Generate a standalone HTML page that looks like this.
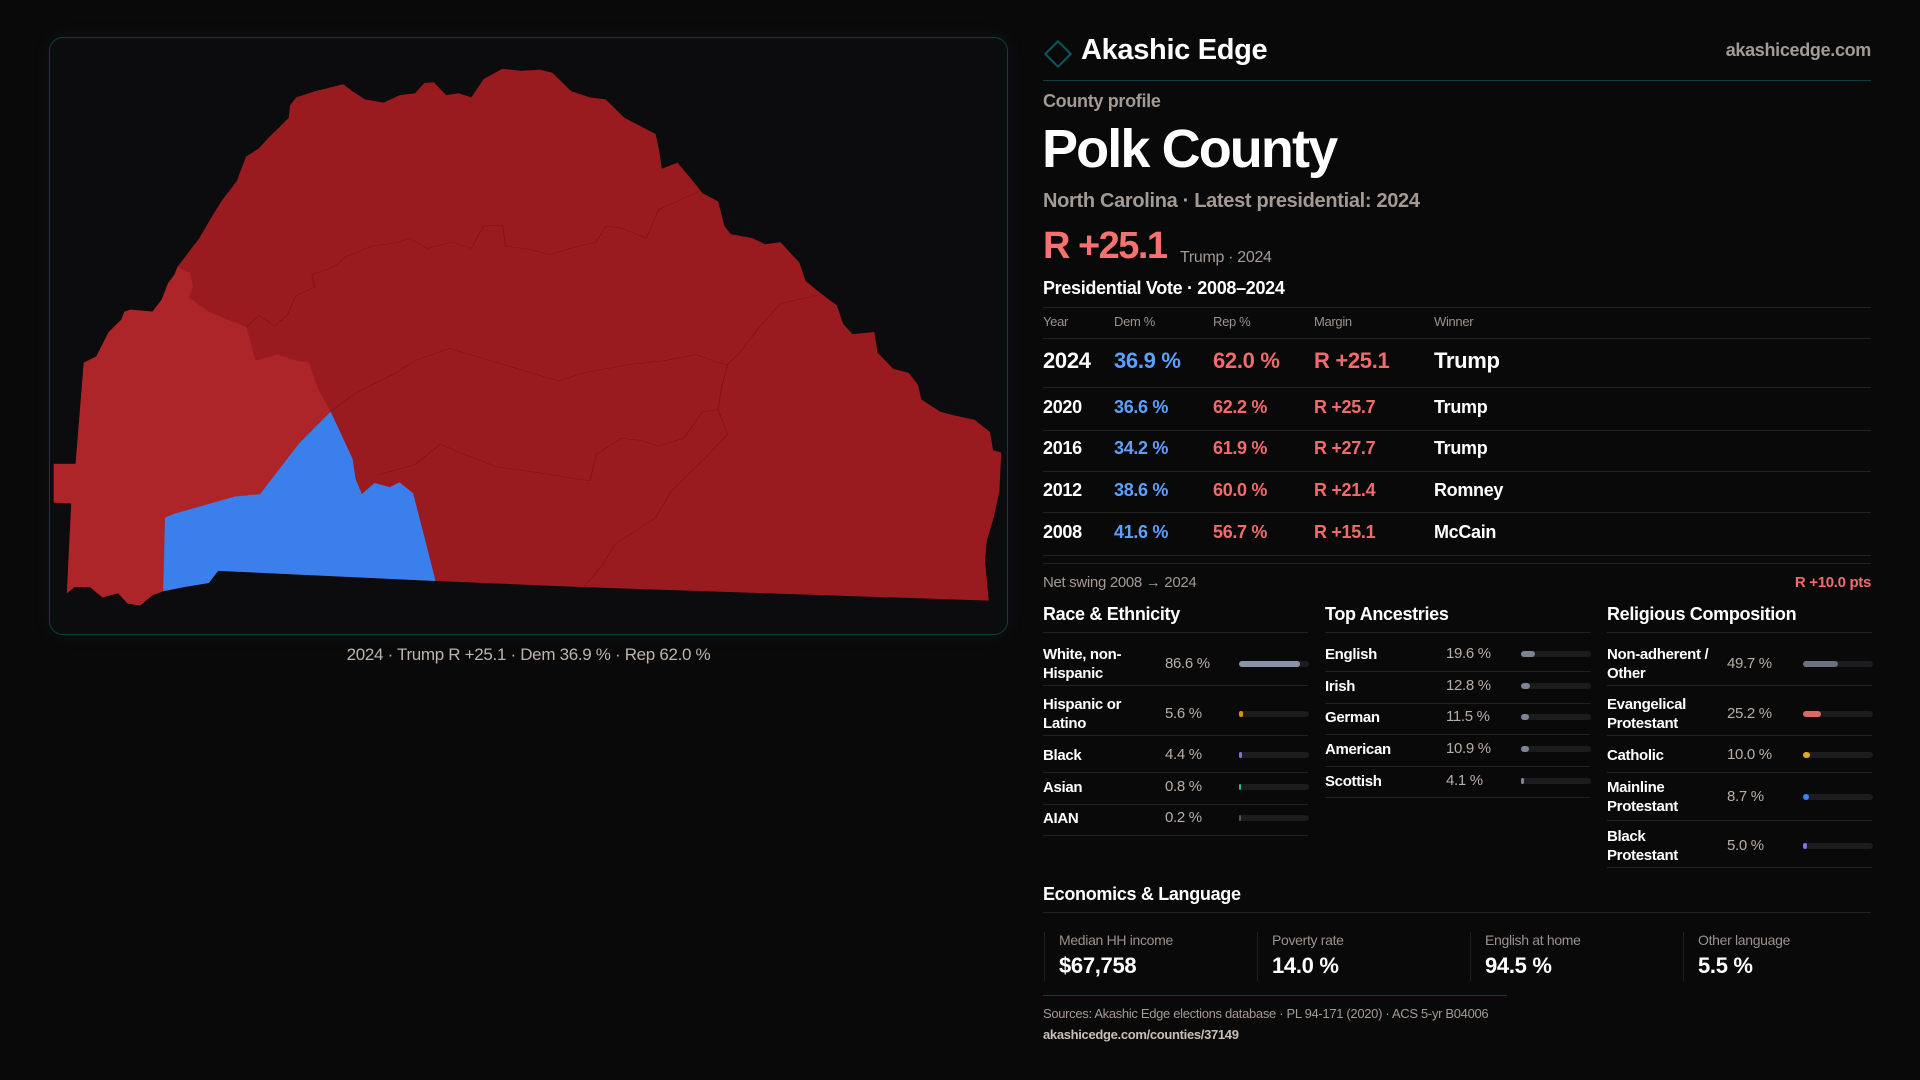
<!DOCTYPE html>
<html><head><meta charset="utf-8">
<style>
*{margin:0;padding:0;box-sizing:border-box}
body{width:1920px;height:1080px;background:#0a090a;font-family:"Liberation Sans",sans-serif;color:#fff;position:relative;overflow:hidden;letter-spacing:-0.02em}
.a{position:absolute;white-space:nowrap}
.hl{position:absolute;height:1px;background:#222024}
.g{color:#a39a94}
</style></head><body>
<div class="a" style="left:49px;top:37px;width:959px;height:598px;border:1px solid #123c44;border-radius:14px;background:#0c0b0d;box-shadow:0 0 16px rgba(20,90,100,0.15)"></div>
<svg class="a" style="left:40px;top:30px" width="980" height="640" viewBox="0 0 1568 1568" preserveAspectRatio="none">
<path fill="#9a1b1f" d="M400,185 L410,165 440,150 485,133 500,150 520,170 550,178 575,160 600,155 615,130 630,128 650,160 670,155 690,165 710,120 740,95 770,100 800,97 820,105 850,150 880,165 905,170 935,215 960,235 985,255 990,290 995,340 1020,325 1050,380 1060,400 1085,420 1095,480 1105,500 1140,510 1160,525 1185,520 1200,545 1215,570 1225,615 1245,640 1275,675 1285,720 1300,745 1335,740 1340,790 1365,830 1390,840 1405,870 1410,905 1440,935 1465,945 1495,955 1520,985 1525,1030 1538,1035 1535,1130 1525,1200 1515,1250 1512,1300 1518,1398 870,1365 635,1350 285,1325 270,1355 230,1365 197,1375 180,1385 160,1410 140,1405 125,1380 100,1390 80,1365 55,1365 43,1380 50,1160 22,1158 22,1063 57,1063 70,815 90,800 100,770 110,740 130,710 135,690 145,685 180,690 195,660 205,620 215,600 220,580 230,560 240,540 255,510 270,470 290,420 300,400 315,370 322,340 330,310 350,290 365,265 385,235 398,215Z"/>
<path fill="#ad2429" d="M220,580 L240,595 245,630 238,655 270,690 330,728 345,810 380,795 410,810 430,815 445,880 465,935 415,1012 352,1137 312,1143 215,1185 200,1195 197,1375 180,1385 160,1410 140,1405 125,1380 100,1390 80,1365 55,1365 43,1380 50,1160 22,1158 22,1063 57,1063 70,815 90,800 100,770 110,740 130,710 135,690 145,685 180,690 195,660 205,620 215,600Z"/>
<path fill="#3b7fec" d="M465,935 L500,1050 505,1100 515,1137 535,1110 560,1120 575,1108 597,1135 633,1350 285,1325 270,1355 230,1365 197,1375 200,1195 215,1185 312,1143 352,1137 415,1012Z"/>
<g fill="none" stroke="#7a1417" stroke-width="1.5">
<polyline points="330,728 350,700 375,725 395,700 410,650 440,630 435,600 470,580 490,555 530,530 575,520 590,510 620,535 660,520 690,535 710,480 740,478 745,530 775,535 815,550 860,530 890,520 905,480 930,485 970,510 990,440 1055,395"/>
<polyline points="465,935 500,895 530,870 570,840 600,810 655,780 830,860 870,840 940,820 1000,810 1050,795 1085,815 1100,820 1120,790 1150,730 1185,670 1245,650"/>
<polyline points="540,1090 600,1065 640,1015 680,1040 730,1070 800,1085 880,1105 890,1040 930,1000 960,1005 990,1020 1030,1000 1060,935 1085,930 1090,880 1100,820"/>
<polyline points="870,1365 900,1310 920,1260 950,1230 985,1195 1010,1130 1040,1085 1070,1040 1100,990 1085,930"/>
</g>
</svg>
<div class="a" style="left:49px;width:959px;top:645px;text-align:center;font-size:17px;color:#bdb3ab">2024 · Trump R +25.1 · Dem 36.9 % · Rep 62.0 %</div>

<div class="a" style="left:1048px;top:44px;width:20px;height:20px;border:2px solid #0f5560;transform:rotate(45deg)"></div>
<div class="a" style="left:1081px;top:34px;font-size:29px;font-weight:bold">Akashic Edge</div>
<div class="a g" style="right:49px;top:40px;font-size:18px;font-weight:bold">akashicedge.com</div>
<div class="hl" style="left:1043px;width:828px;top:80px;background:#0f3e47"></div>
<div class="a g" style="left:1043px;top:91px;font-size:18px;font-weight:bold">County profile</div>
<div class="a" style="left:1042px;top:118px;font-size:54px;font-weight:bold;letter-spacing:-0.035em">Polk County</div>
<div class="a g" style="left:1043px;top:190px;font-size:20px;font-weight:bold">North Carolina · Latest presidential: 2024</div>
<div class="a" style="left:1043px;top:225px;font-size:38px;font-weight:bold;color:#f87171;letter-spacing:-0.04em">R +25.1</div>
<div class="a g" style="left:1180px;top:249px;font-size:16px">Trump · 2024</div>
<div class="a" style="left:1043px;top:278px;font-size:18px;font-weight:bold">Presidential Vote · 2008–2024</div>
<div class="hl" style="left:1043px;width:828px;top:307px"></div>
<div id="vt"></div>
<div id="demo"></div>

<div class="a" style="left:1043px;top:884px;font-size:18px;font-weight:bold">Economics &amp; Language</div>
<div class="hl" style="left:1043px;width:828px;top:912px"></div>
<div id="econ"></div>
<div class="hl" style="left:1043px;width:464px;top:995px;background:#0f3e47"></div>
<div class="a g" style="left:1043px;top:1006px;font-size:13px">Sources: Akashic Edge elections database · PL 94-171 (2020) · ACS 5-yr B04006</div>
<div class="a g" style="left:1043px;top:1027px;font-size:13px;font-weight:bold;color:#c8bfb8">akashicedge.com/counties/37149</div>

<script>
const years=[2024,2020,2016,2012,2008];
const demPct=[36.9,36.6,34.2,38.6,41.6];
const repPct=[62.0,62.2,61.9,60.0,56.7];
const margins=[25.1,25.7,27.7,21.4,15.1];
const winners=["Trump","Trump","Trump","Romney","McCain"];
const raceLabels=["White, non-<br>Hispanic","Hispanic or<br>Latino","Black","Asian","AIAN"];
const raceVals=[86.6,5.6,4.4,0.8,0.2];
const ancLabels=["English","Irish","German","American","Scottish"];
const ancVals=[19.6,12.8,11.5,10.9,4.1];
const relLabels=["Non-adherent /<br>Other","Evangelical<br>Protestant","Catholic","Mainline<br>Protestant","Black<br>Protestant"];
const relVals=[49.7,25.2,10.0,8.7,5.0];
const econLabels=["Median HH income","Poverty rate","English at home","Other language"];
const econVals=["$67,758","14.0 %","94.5 %","5.5 %"];
const netSwing=10.0;

function mk(parent,html,style,name,inter){
  const d=document.createElement('div');
  d.className='a';
  d.style.cssText=style;
  d.innerHTML=html;
  
  
  parent.appendChild(d);
  return d;
}
function hl(parent,x,w,y){
  const d=document.createElement('div');
  d.className='hl';
  d.style.cssText=`left:${x}px;width:${w}px;top:${y}px`;
  
  
  parent.appendChild(d);
}
const vt=document.getElementById('vt');
const cols=[1043,1114,1213,1314,1434];
["Year","Dem %","Rep %","Margin","Winner"].forEach((h,i)=>{
  mk(vt,h,`left:${cols[i]}px;top:314px;font-size:13px;color:#9a918b`,'table-header',false);
});
hl(vt,1043,828,338);
const rowY=[361,408,449,491,533];
const lineY=[387,430,471,512,555];
years.forEach((y,i)=>{
  const fs=i==0?22:18, t=rowY[i]-fs*0.6;
  mk(vt,y,`left:${cols[0]}px;top:${t}px;font-size:${fs}px;font-weight:bold`,'row-year',false);
  mk(vt,demPct[i].toFixed(1)+' %',`left:${cols[1]}px;top:${t}px;font-size:${fs}px;font-weight:bold;color:#5da0ff`,'row-dem',false);
  mk(vt,repPct[i].toFixed(1)+' %',`left:${cols[2]}px;top:${t}px;font-size:${fs}px;font-weight:bold;color:#f26b6b`,'row-rep',false);
  mk(vt,'R +'+margins[i].toFixed(1),`left:${cols[3]}px;top:${t}px;font-size:${fs}px;font-weight:bold;color:#f26b6b`,'row-margin',false);
  mk(vt,winners[i],`left:${cols[4]}px;top:${t}px;font-size:${fs}px;font-weight:bold`,'row-winner',false);
  hl(vt,1043,828,lineY[i]);
});
hl(vt,1043,828,563);
mk(vt,'Net swing 2008 → 2024','left:1043px;top:574px;font-size:15px;color:#a39a94','net-swing-label',false);
mk(vt,'R +'+netSwing.toFixed(1)+' pts','right:49px;top:574px;font-size:15px;font-weight:bold;color:#f26b6b','net-swing-value',false);

const demo=document.getElementById('demo');
function section(title,x,labels,vals,colors,ys,seps,valX){
  mk(demo,title,`left:${x}px;top:604px;font-size:18px;font-weight:bold`,'section-title',false);
  hl(demo,x,265,632);
  labels.forEach((l,i)=>{
    const two=l.indexOf('<br>')>=0;
    mk(demo,l,`left:${x}px;top:${ys[i]-(two?19:9)}px;font-size:15px;font-weight:bold;line-height:19px`,'row-label',false);
    mk(demo,vals[i].toFixed(1)+' %',`left:${valX}px;top:${ys[i]-9}px;font-size:15px;color:#b8aea6`,'row-value',false);
    const track=mk(demo,'',`left:${x+196}px;top:${ys[i]-3}px;width:70px;height:6px;border-radius:3px;background:#1c1b1e`,'bar-track',false);
    const f=document.createElement('div');
    f.style.cssText=`position:absolute;left:0;top:0;height:6px;border-radius:3px;background:${colors[i]};width:${Math.max(1.5,70*vals[i]/100)}px`;
    
    
    track.appendChild(f);
    hl(demo,x,265,seps[i]);
  });
}
section('Race & Ethnicity',1043,raceLabels,raceVals,['#8a94a8','#d98e14','#8b6be0','#2bb59a','#555'],[664,714,755,787,818],[685,735,772,804,835],1165);
section('Top Ancestries',1325,ancLabels,ancVals,Array(5).fill('#7c8496'),[654,686,717,749,781],[671,703,734,766,797],1446);
section('Religious Composition',1607,relLabels,relVals,['#6b7080','#e06565','#e0a820','#3b82f6','#8b6be0'],[664,714,755,797,846],[685,735,772,820,867],1727);

const econ=document.getElementById('econ');
econLabels.forEach((l,i)=>{
  const x=1044+213*i;
  mk(econ,'',`left:${x}px;top:932px;width:1px;height:49px;background:#1f1e21`,'card-border',false);
  mk(econ,l,`left:${x+15}px;top:932px;font-size:14px;color:#9a918b`,'card-label',false);
  mk(econ,econVals[i],`left:${x+15}px;top:953px;font-size:22px;font-weight:bold`,'card-value',false);
});
</script>
</body></html>
